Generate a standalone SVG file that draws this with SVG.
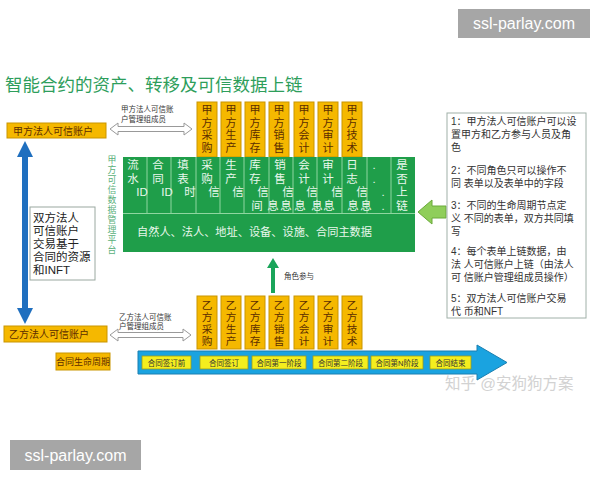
<svg xmlns="http://www.w3.org/2000/svg" width="600" height="480" viewBox="0 0 600 480">
<style>
text{font-family:"Liberation Sans","Noto Sans CJK SC",sans-serif}
.wm{fill:#a6a6a6}
.wmt{fill:#fff;font-family:"Liberation Sans","DejaVu Sans",sans-serif;font-size:16px}
.yb{fill:#f5b800;stroke:#c99500;stroke-width:1}
.yt{fill:#5c2e00;font-size:11px;text-anchor:middle}
.yt2{fill:#5c2e00;font-size:10.7px;text-anchor:middle}
.acct{fill:#5c2e00;font-size:10px}
.small{fill:#333;font-size:7.5px}
.gt{fill:#e9f7ec;font-size:11.5px;text-anchor:middle}
.note{fill:#333;font-size:10px}
.cy{fill:#f4ee1e;stroke:#9a9a20;stroke-width:0.8}
.cyt{fill:#333;font-size:7.5px;text-anchor:middle}
.hollow{fill:#fff;stroke:#999;stroke-width:1}
</style>
<rect width="600" height="480" fill="#fff"/>
<g id="watermarks">
<rect class="wm" x="458" y="9" width="132" height="29"/>
<text class="wmt" x="524" y="29" text-anchor="middle">ssl-parlay.com</text>
<rect class="wm" x="10" y="440" width="131" height="30"/>
<text class="wmt" x="75.5" y="461" text-anchor="middle">ssl-parlay.com</text>
<text x="445" y="389" fill="#d2d2d2" font-size="15.5">知乎 @安狗狗方案</text>
</g>
<text id="title" x="5" y="91" fill="#2e9e5b" font-size="17.5">智能合约的资产、转移及可信数据上链</text>
<g id="connectors">
<polygon class="hollow" points="110,129 118,123 118,126.5 184,126.5 184,123 192,129 184,135 184,131.5 118,131.5 118,135"/>
<polygon class="hollow" points="110,335 118,329 118,332.5 183,332.5 183,329 191,335 183,341 183,337.5 118,337.5 118,341"/>
<polygon fill="#1f6fbf" points="25,141 33,157 28,157 28,308 33,308 25,324 17,308 22,308 22,157 17,157"/>
<polygon fill="#1aa55a" points="273,258 279,268 275,268 275,293 271,293 271,268 267,268"/>
<polygon fill="#8fce5a" stroke="#6aaa3a" stroke-width="1" points="418,212 432,200 432,206 446,206 446,218 432,218 432,224"/>
<polygon fill="#1aa3e0" stroke="#1a7fb0" stroke-width="1" points="138,351 477,351 477,345 507,362.5 477,380 477,374 138,374"/>
</g>
<text class="small" x="121" y="112">甲方法人可信账</text>
<text class="small" x="121" y="121.5">户管理组成员</text>
<text class="small" x="119" y="319.5">乙方法人可信账</text>
<text class="small" x="119" y="328.5">户管理组成员</text>
<text class="small" x="284" y="279">角色参与</text>
<g id="node-jia-account">
<rect class="yb" x="7" y="123" width="99" height="15"/>
<text class="acct" x="13" y="134.5">甲方法人可信账户</text>
</g>
<g id="node-yi-account">
<rect class="yb" x="4" y="326" width="103" height="16"/>
<text class="acct" x="9" y="338">乙方法人可信账户</text>
</g>
<g id="node-trade-note">
<rect x="30" y="207" width="65" height="73" fill="#fff" stroke="#9aa8a0" stroke-width="1"/>
<text fill="#222" font-size="11.5"><tspan x="33" y="222">双方法人</tspan><tspan x="33" y="235">可信账户</tspan><tspan x="33" y="248">交易基于</tspan><tspan x="33" y="261">合同的资源</tspan><tspan x="33" y="274">和INFT</tspan></text>
</g>
<g id="node-jia-depts">
<rect class="yb" x="197" y="102" width="20" height="55"/>
<rect class="yb" x="221" y="102" width="20" height="55"/>
<rect class="yb" x="245" y="102" width="20" height="55"/>
<rect class="yb" x="269" y="102" width="20" height="55"/>
<rect class="yb" x="294" y="102" width="20" height="55"/>
<rect class="yb" x="318" y="102" width="20" height="55"/>
<rect class="yb" x="342" y="102" width="20" height="55"/>
<text class="yt"><tspan x="207" y="114">甲</tspan><tspan x="207" y="126.5">方</tspan><tspan x="207" y="139">采</tspan><tspan x="207" y="151.5">购</tspan></text>
<text class="yt"><tspan x="231" y="114">甲</tspan><tspan x="231" y="126.5">方</tspan><tspan x="231" y="139">生</tspan><tspan x="231" y="151.5">产</tspan></text>
<text class="yt"><tspan x="255" y="114">甲</tspan><tspan x="255" y="126.5">方</tspan><tspan x="255" y="139">库</tspan><tspan x="255" y="151.5">存</tspan></text>
<text class="yt"><tspan x="279" y="114">甲</tspan><tspan x="279" y="126.5">方</tspan><tspan x="279" y="139">销</tspan><tspan x="279" y="151.5">售</tspan></text>
<text class="yt"><tspan x="304" y="114">甲</tspan><tspan x="304" y="126.5">方</tspan><tspan x="304" y="139">会</tspan><tspan x="304" y="151.5">计</tspan></text>
<text class="yt"><tspan x="328" y="114">甲</tspan><tspan x="328" y="126.5">方</tspan><tspan x="328" y="139">审</tspan><tspan x="328" y="151.5">计</tspan></text>
<text class="yt"><tspan x="352" y="114">甲</tspan><tspan x="352" y="126.5">方</tspan><tspan x="352" y="139">技</tspan><tspan x="352" y="151.5">术</tspan></text>
</g>
<g id="node-yi-depts">
<rect class="yb" x="197" y="296" width="20" height="53"/>
<rect class="yb" x="221" y="296" width="20" height="53"/>
<rect class="yb" x="245" y="296" width="20" height="53"/>
<rect class="yb" x="269" y="296" width="20" height="53"/>
<rect class="yb" x="294" y="296" width="20" height="53"/>
<rect class="yb" x="318" y="296" width="20" height="53"/>
<rect class="yb" x="342" y="296" width="20" height="53"/>
<text class="yt2"><tspan x="207" y="309">乙</tspan><tspan x="207" y="321">方</tspan><tspan x="207" y="333">采</tspan><tspan x="207" y="345">购</tspan></text>
<text class="yt2"><tspan x="231" y="309">乙</tspan><tspan x="231" y="321">方</tspan><tspan x="231" y="333">生</tspan><tspan x="231" y="345">产</tspan></text>
<text class="yt2"><tspan x="255" y="309">乙</tspan><tspan x="255" y="321">方</tspan><tspan x="255" y="333">库</tspan><tspan x="255" y="345">存</tspan></text>
<text class="yt2"><tspan x="279" y="309">乙</tspan><tspan x="279" y="321">方</tspan><tspan x="279" y="333">销</tspan><tspan x="279" y="345">售</tspan></text>
<text class="yt2"><tspan x="304" y="309">乙</tspan><tspan x="304" y="321">方</tspan><tspan x="304" y="333">会</tspan><tspan x="304" y="345">计</tspan></text>
<text class="yt2"><tspan x="328" y="309">乙</tspan><tspan x="328" y="321">方</tspan><tspan x="328" y="333">审</tspan><tspan x="328" y="345">计</tspan></text>
<text class="yt2"><tspan x="352" y="309">乙</tspan><tspan x="352" y="321">方</tspan><tspan x="352" y="333">技</tspan><tspan x="352" y="345">术</tspan></text>
</g>
<g id="node-platform">
<text fill="#5ab07a" font-size="8.9" text-anchor="middle"><tspan x="112" y="163">甲</tspan><tspan x="112" y="173">方</tspan><tspan x="112" y="183">可</tspan><tspan x="112" y="193">信</tspan><tspan x="112" y="203">数</tspan><tspan x="112" y="213">据</tspan><tspan x="112" y="223">管</tspan><tspan x="112" y="233">理</tspan><tspan x="112" y="243">平</tspan><tspan x="112" y="253">台</tspan></text>
<rect x="123" y="157" width="292" height="95" fill="#1f9e4a"/>
<g stroke="#8fd6a0" stroke-width="1">
<line x1="123" y1="213.5" x2="415" y2="213.5"/>
<line x1="147" y1="157" x2="147" y2="213.5"/>
<line x1="171" y1="157" x2="171" y2="213.5"/>
<line x1="196" y1="157" x2="196" y2="213.5"/>
<line x1="220" y1="157" x2="220" y2="213.5"/>
<line x1="244" y1="157" x2="244" y2="213.5"/>
<line x1="269" y1="157" x2="269" y2="213.5"/>
<line x1="293" y1="157" x2="293" y2="213.5"/>
<line x1="317" y1="157" x2="317" y2="213.5"/>
<line x1="342" y1="157" x2="342" y2="213.5"/>
<line x1="367" y1="157" x2="367" y2="213.5"/>
<line x1="391" y1="157" x2="391" y2="213.5"/>
</g>
<text class="gt"><tspan x="133" y="169">流</tspan><tspan x="158" y="169">合</tspan><tspan x="183" y="169">填</tspan><tspan x="207" y="169">采</tspan><tspan x="231" y="169">生</tspan><tspan x="255" y="169">库</tspan><tspan x="280" y="169">销</tspan><tspan x="304" y="169">会</tspan><tspan x="328" y="169">审</tspan><tspan x="352" y="169">日</tspan><tspan x="374" y="169">.</tspan><tspan x="402" y="169">是</tspan></text>
<text class="gt"><tspan x="133" y="182.5">水</tspan><tspan x="158" y="182.5">同</tspan><tspan x="183" y="182.5">表</tspan><tspan x="207" y="182.5">购</tspan><tspan x="231" y="182.5">产</tspan><tspan x="255" y="182.5">存</tspan><tspan x="280" y="182.5">售</tspan><tspan x="304" y="182.5">计</tspan><tspan x="328" y="182.5">计</tspan><tspan x="352" y="182.5">志</tspan><tspan x="374" y="182.5">.</tspan><tspan x="402" y="182.5">否</tspan></text>
<text class="gt"><tspan x="142" y="196">ID</tspan><tspan x="167" y="196">ID</tspan><tspan x="190" y="196">时</tspan><tspan x="214" y="196">信</tspan><tspan x="238" y="196">信</tspan><tspan x="263" y="196">信</tspan><tspan x="288" y="196">信</tspan><tspan x="312" y="196">信</tspan><tspan x="337" y="196">信</tspan><tspan x="362" y="196">信</tspan><tspan x="383" y="196">.</tspan><tspan x="402" y="196">上</tspan></text>
<text class="gt"><tspan x="257" y="209.5">间</tspan><tspan x="273" y="209.5">息</tspan><tspan x="286" y="209.5">息</tspan><tspan x="300" y="209.5">息</tspan><tspan x="317" y="209.5">息</tspan><tspan x="329" y="209.5">息</tspan><tspan x="353" y="209.5">息</tspan><tspan x="366" y="209.5">息</tspan><tspan x="383" y="209.5">.</tspan><tspan x="402" y="209.5">链</tspan></text>
<text x="137" y="236" fill="#e9f7ec" font-size="11.2">自然人、法人、地址、设备、设施、合同主数据</text>
</g>
<g id="node-notes">
<rect x="447" y="113" width="139" height="205" fill="#fff" stroke="#a0b0a8" stroke-width="1"/>
<text class="note"><tspan x="451" y="125">1：甲方法人可信账户可以设</tspan><tspan x="451" y="138">置甲方和乙方参与人员及角</tspan><tspan x="451" y="151">色</tspan><tspan x="451" y="174">2：不同角色只可以操作不</tspan><tspan x="451" y="187">同 表单以及表单中的字段</tspan><tspan x="451" y="209">3：不同的生命周期节点定</tspan><tspan x="451" y="222">义 不同的表单，双方共同填</tspan><tspan x="451" y="235">写</tspan><tspan x="451" y="255">4：每个表单上链数据，由</tspan><tspan x="451" y="268">法 人可信账户上链（由法人</tspan><tspan x="451" y="281">可 信账户管理组成员操作）</tspan><tspan x="451" y="302">5：双方法人可信账户交易</tspan><tspan x="451" y="315">代 币和NFT</tspan></text>
</g>
<g id="node-lifecycle">
<rect class="yb" x="56" y="353" width="54" height="17"/>
<text x="83" y="365" fill="#5c2e00" font-size="9" text-anchor="middle">合同生命周期</text>
</g>
<g id="node-stages">
<rect class="cy" x="142" y="356" width="49" height="13"/>
<rect class="cy" x="200" y="356" width="48" height="13"/>
<rect class="cy" x="252" y="356" width="54" height="13"/>
<rect class="cy" x="313" y="356" width="55" height="13"/>
<rect class="cy" x="371" y="356" width="52" height="13"/>
<rect class="cy" x="430" y="356" width="41" height="13"/>
<text class="cyt" x="166.5" y="365.5">合同签订前</text>
<text class="cyt" x="224" y="365.5">合同签订</text>
<text class="cyt" x="279" y="365.5">合同第一阶段</text>
<text class="cyt" x="340.5" y="365.5">合同第二阶段</text>
<text class="cyt" x="397" y="365.5">合同第N阶段</text>
<text class="cyt" x="450.5" y="365.5">合同结束</text>
</g>
</svg>
